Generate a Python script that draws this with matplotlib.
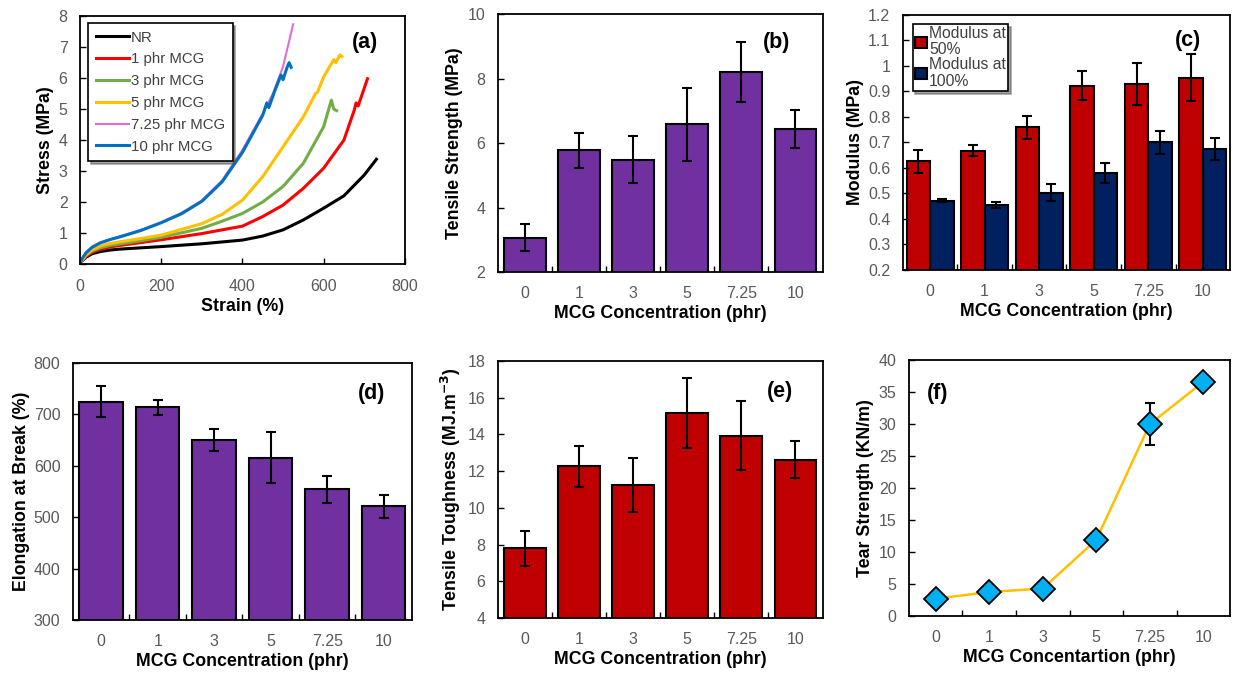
import numpy as np
import matplotlib
matplotlib.use("Agg")
import matplotlib.pyplot as plt

plt.rcParams['font.family'] = ['Liberation Sans', 'DejaVu Sans']

# ---- data ----
conc_labels = ["0", "1", "3", "5", "7.25", "10"]

# (a) stress-strain curves: (strain %, stress MPa)
nr_strain = [0, 5, 15, 30, 50, 75, 100, 150, 200, 300, 400, 450, 500, 550, 600, 650, 700, 730]
nr_stress = [0, 0.1, 0.22, 0.33, 0.4, 0.45, 0.48, 0.52, 0.56, 0.65, 0.77, 0.9, 1.1, 1.42, 1.8, 2.2, 2.87, 3.38]
p1_strain = [0, 5, 15, 30, 50, 75, 100, 150, 200, 300, 400, 450, 500, 550, 600, 650, 675, 680, 685, 708]
p1_stress = [0, 0.11, 0.25, 0.38, 0.47, 0.55, 0.6, 0.69, 0.78, 0.98, 1.22, 1.53, 1.9, 2.44, 3.09, 4.0, 4.95, 5.2, 5.1, 5.98]
p3_strain = [0, 5, 15, 30, 50, 75, 100, 150, 200, 300, 350, 400, 450, 500, 550, 600, 619, 625, 632]
p3_stress = [0, 0.12, 0.28, 0.42, 0.52, 0.6, 0.65, 0.75, 0.86, 1.15, 1.38, 1.63, 2.0, 2.5, 3.25, 4.43, 5.29, 5.0, 4.95]
p5_strain = [0, 5, 15, 30, 50, 75, 100, 150, 200, 300, 350, 400, 450, 500, 550, 580, 585, 600, 625, 630, 640, 645]
p5_stress = [0, 0.13, 0.3, 0.46, 0.58, 0.66, 0.72, 0.82, 0.93, 1.3, 1.6, 2.06, 2.82, 3.78, 4.75, 5.5, 5.55, 6.04, 6.6, 6.5, 6.75, 6.7]
p725_strain = [0, 5, 15, 30, 50, 75, 100, 150, 200, 250, 300, 350, 400, 450, 475, 500, 525]
p725_stress = [0, 0.18, 0.38, 0.56, 0.7, 0.8, 0.9, 1.1, 1.35, 1.65, 2.05, 2.7, 3.68, 4.86, 5.5, 6.37, 7.74]
p10_strain = [0, 5, 15, 30, 50, 75, 100, 150, 200, 250, 300, 350, 400, 450, 460, 465, 480, 495, 500, 510, 515, 520]
p10_stress = [0, 0.17, 0.36, 0.54, 0.68, 0.79, 0.88, 1.08, 1.33, 1.62, 2.02, 2.65, 3.6, 4.8, 5.2, 5.05, 5.6, 6.1, 5.95, 6.35, 6.5, 6.35]

# (b) tensile strength
ts = [3.06, 5.78, 5.49, 6.58, 8.2, 6.44]
ts_err = [0.42, 0.54, 0.72, 1.12, 0.94, 0.58]

# (c) modulus
mod50 = [0.626, 0.667, 0.759, 0.922, 0.929, 0.954]
mod50_err = [0.046, 0.022, 0.046, 0.056, 0.081, 0.092]
mod100 = [0.472, 0.455, 0.503, 0.58, 0.70, 0.675]
mod100_err = [0.005, 0.013, 0.033, 0.038, 0.046, 0.044]

# (d) elongation at break
eb = [725, 714, 650, 616, 554, 521]
eb_err = [30, 15, 21, 50, 26, 22]

# (e) tensile toughness
tough = [7.81, 12.26, 11.23, 15.17, 13.93, 12.63]
tough_err = [0.95, 1.13, 1.47, 1.9, 1.87, 1.0]

# (f) tear strength
tear = [2.7, 3.75, 4.3, 11.9, 30.0, 36.6]
tear_err = [0, 0, 0, 0, 3.3, 0]

PURPLE = "#7030a0"
RED = "#c00000"
NAVY = "#002060"
TICKC = "#595959"
TICKSIZE = 11.5
LABSIZE = 12.8

fig = plt.figure(figsize=(12.35, 6.75), dpi=100)


def style_axes(ax, ylabel, xlabel):
    for sp in ax.spines.values():
        sp.set_color("black")
        sp.set_linewidth(1.3)
    ax.tick_params(direction='in', length=4, width=1, colors="black", labelcolor=TICKC, labelsize=TICKSIZE)
    ax.tick_params(axis='y', pad=9)
    ax.set_ylabel(ylabel, fontsize=LABSIZE, fontweight='bold', labelpad=3)
    ax.set_xlabel(xlabel, fontsize=LABSIZE, fontweight='bold', labelpad=3)


def category_axis(ax):
    n = len(conc_labels)
    ax.set_xlim(-0.5, n - 0.5)
    ax.set_xticks(np.arange(0.5, n - 0.5))
    ax.set_xticklabels([])
    ax.set_xticks(np.arange(n), minor=True)
    ax.set_xticklabels(conc_labels, minor=True)
    ax.tick_params(axis='x', which='minor', length=0, pad=10, labelcolor=TICKC, labelsize=TICKSIZE)


def panel_label(ax, s, x, y):
    ax.text(x, y, s, transform=ax.transAxes, fontsize=15.5, fontweight='bold', ha='center', va='center')


def boxed_legend(leg):
    leg.get_frame().set_edgecolor("black")
    leg.get_frame().set_linewidth(1.2)
    for t in leg.get_texts():
        t.set_color("#404040")


ekw = dict(ecolor="black", elinewidth=1.5, capsize=3.5, capthick=1.5)

# (a)
ax = fig.add_axes([0.0648, 0.609, 0.263, 0.367])
curves = [(nr_strain, nr_stress, "black", "NR"),
          (p1_strain, p1_stress, "#ff0000", "1 phr MCG"),
          (p3_strain, p3_stress, "#70ad47", "3 phr MCG"),
          (p5_strain, p5_stress, "#ffc000", "5 phr MCG"),
          (p725_strain, p725_stress, "#da70d6", "7.25 phr MCG"),
          (p10_strain, p10_stress, "#0070c0", "10 phr MCG")]
for xs, ys, c, lab in curves:
    lw = 1.5 if c == "#da70d6" else 2.2
    ax.plot(xs, ys, color=c, lw=lw, label=lab)
ax.set_xlim(0, 800)
ax.set_ylim(0, 8)
ax.set_xticks([0, 200, 400, 600, 800])
ax.set_yticks(range(0, 9))
style_axes(ax, "Stress (MPa)", "Strain (%)")
ax.tick_params(axis='x', pad=11)
leg = ax.legend(loc='upper left', bbox_to_anchor=(0.025, 0.972), borderaxespad=0, fontsize=10.8,
                frameon=True, fancybox=False, shadow=True, handlelength=2.2, handletextpad=0.15,
                labelspacing=0.52, borderpad=0.5)
boxed_legend(leg)
panel_label(ax, "(a)", 0.877, 0.895)

x = np.arange(len(conc_labels))

# (b)
ax = fig.add_axes([0.403, 0.597, 0.263, 0.382])
ax.bar(x, ts, width=0.77, color=PURPLE, edgecolor="black", lw=1.5, yerr=ts_err, error_kw=ekw)
ax.set_ylim(2, 10)
ax.set_yticks([2, 4, 6, 8, 10])
style_axes(ax, "Tensile Strength (MPa)", "MCG Concentration (phr)")
category_axis(ax)
panel_label(ax, "(b)", 0.86, 0.89)

# (c)
ax = fig.add_axes([0.731, 0.600, 0.265, 0.378])
w = 0.43
ax.bar(x - w / 2, mod50, width=w, color=RED, edgecolor="black", lw=1.5, label="Modulus at\n50%",
       yerr=mod50_err, error_kw=ekw)
ax.bar(x + w / 2, mod100, width=w, color=NAVY, edgecolor="black", lw=1.5, label="Modulus at\n100%",
       yerr=mod100_err, error_kw=ekw)
ax.set_ylim(0.2, 1.2)
ax.set_yticks(np.arange(0.2, 1.21, 0.1))
ax.set_yticklabels(["0.2", "0.3", "0.4", "0.5", "0.6", "0.7", "0.8", "0.9", "1", "1.1", "1.2"])
style_axes(ax, "Modulus (MPa)", "MCG Concentration (phr)")
category_axis(ax)
leg = ax.legend(loc='upper left', bbox_to_anchor=(0.03, 0.965), borderaxespad=0, fontsize=11.3,
                frameon=True, fancybox=False, shadow=True, handlelength=0.75, handleheight=0.75,
                handletextpad=0.15, labelspacing=0.0, borderpad=0.15)
boxed_legend(leg)
for t in leg.get_texts():
    t.set_linespacing(1.1)
panel_label(ax, "(c)", 0.87, 0.90)

# (d)
ax = fig.add_axes([0.0591, 0.0815, 0.2745, 0.3807])
ax.bar(x, eb, width=0.77, color=PURPLE, edgecolor="black", lw=1.5, yerr=eb_err, error_kw=ekw)
ax.set_ylim(300, 800)
ax.set_yticks(range(300, 801, 100))
style_axes(ax, "Elongation at Break (%)", "MCG Concentration (phr)")
category_axis(ax)
panel_label(ax, "(d)", 0.88, 0.88)

# (e)
ax = fig.add_axes([0.403, 0.0844, 0.263, 0.3807])
ax.bar(x, tough, width=0.77, color=RED, edgecolor="black", lw=1.5, yerr=tough_err, error_kw=ekw)
ax.set_ylim(4, 18)
ax.set_yticks(range(4, 19, 2))
style_axes(ax, "Tensile Toughness (MJ.m$^{\\mathbf{-3}}$)", "MCG Concentration (phr)")
category_axis(ax)
panel_label(ax, "(e)", 0.87, 0.88)

# (f)
ax = fig.add_axes([0.736, 0.0874, 0.26, 0.379])
ax.plot(x, tear, color="#ffc000", lw=1.8, zorder=2)
ax.errorbar(x, tear, yerr=tear_err, fmt='none', zorder=3, **ekw)
ax.plot(x, tear, 'D', ms=12, mfc="#00b0f0", mec="black", mew=1.3, zorder=4)
ax.set_ylim(0, 40)
ax.set_yticks(range(0, 41, 5))
style_axes(ax, "Tear Strength (KN/m)", "MCG Concentartion (phr)")
category_axis(ax)
panel_label(ax, "(f)", 0.09, 0.87)

fig.savefig("out.png", dpi=100)
